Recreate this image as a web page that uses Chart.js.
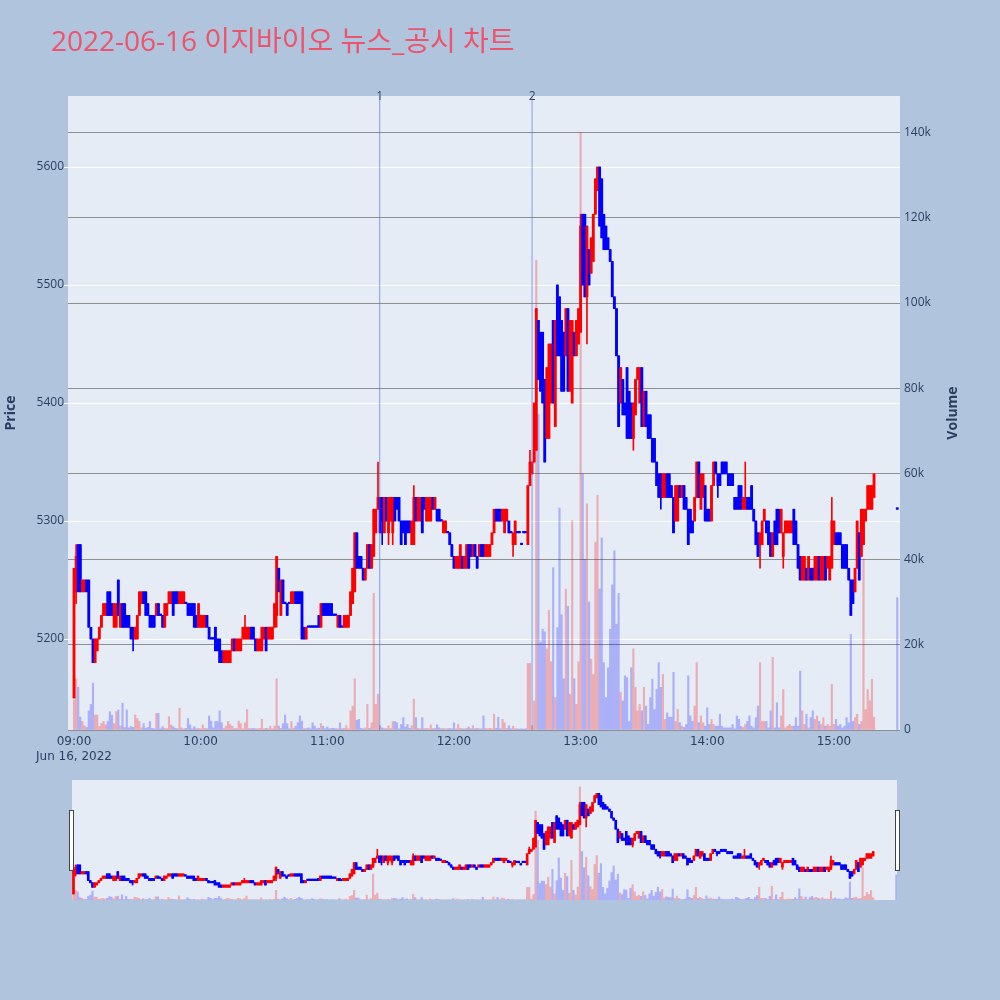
<!DOCTYPE html>
<html>
<head>
<meta charset="utf-8">
<script src="https://cdn.jsdelivr.net/npm/chart.js@4.4.0/dist/chart.umd.min.js"></script>
<style>
  body { margin: 0; background: #b0c4de; }
  #page { position: relative; width: 1000px; height: 1000px; overflow: hidden; background: #b0c4de; }
  #title { position: absolute; left: 51px; top: 26px; font-size: 28px; line-height: 28px; color: rgb(236, 84, 107);
           font-family: "Open Sans", "Noto Sans CJK KR", sans-serif; white-space: nowrap; }
  #main { position: absolute; left: 0; top: 0; }
  #slider { position: absolute; left: 66px; top: 780px; }
</style>
</head>
<body>
<div id="page">
  <canvas id="main" width="1000" height="770"></canvas>
  <canvas id="slider" width="836" height="120"></canvas>
  <div id="title">2022-06-16 이지바이오 뉴스_공시 차트</div>
</div>
<script>
// 1-minute candles, 09:00 .. 15:19, then the 15:30 closing auction
const opens = [
  5150,5240,5280,5280,5240,5240,5250,5250,5210,5200,
  5180,5190,5200,5210,5220,5220,5240,5240,5230,5210,
  5210,5250,5210,5230,5230,5220,5220,5210,5210,5200,
  5200,5220,5230,5240,5240,5230,5220,5220,5220,5220,
  5230,5220,5220,5210,5220,5230,5230,5240,5240,5240,
  5230,5230,5230,5230,5230,5230,5230,5230,5220,5210,
  5210,5210,5210,5220,5210,5200,5200,5210,5200,5200,
  5190,5180,5180,5180,5180,5190,5200,5190,5190,5190,
  5200,5200,5200,5200,5210,5210,5200,5190,5190,5190,
  5200,5210,5200,5200,5200,5210,5220,5260,5220,5250,
  5230,5230,5230,5230,5230,5240,5240,5240,5240,5210,
  5200,5210,5210,5210,5210,5210,5220,5210,5230,5230,
  5230,5230,5230,5220,5220,5210,5220,5210,5210,5210,
  5210,5220,5230,5240,5290,5270,5270,5260,5250,5260,
  5280,5260,5270,5290,5310,5320,5320,5290,5320,5290,
  5300,5290,5320,5320,5320,5300,5300,5300,5300,5300,
  5280,5280,5320,5300,5300,5320,5320,5300,5300,5300,
  5320,5310,5310,5310,5300,5290,5290,5290,5290,5280,
  5270,5260,5260,5260,5270,5260,5260,5280,5280,5270,
  5280,5270,5270,5280,5280,5270,5270,5270,5280,5290,
  5310,5310,5310,5300,5290,5300,5300,5290,5280,5280,
  5290,5290,5280,5290,5290,5280,5330,5340,5350,5360,
  5470,5460,5460,5420,5370,5370,5400,5470,5380,5500,
  5490,5470,5460,5440,5480,5410,5400,5460,5440,5450,
  5460,5560,5560,5490,5530,5510,5520,5560,5580,5600,
  5590,5560,5550,5540,5530,5520,5490,5480,5440,5400,
  5420,5400,5430,5410,5400,5370,5390,5420,5400,5430,
  5380,5410,5390,5390,5370,5370,5350,5340,5340,5320,
  5320,5340,5340,5330,5320,5300,5300,5330,5320,5330,
  5320,5310,5310,5300,5300,5320,5350,5310,5320,5330,
  5310,5310,5300,5330,5350,5340,5340,5350,5350,5350,
  5340,5340,5340,5320,5320,5330,5330,5310,5310,5320,
  5320,5330,5310,5300,5290,5280,5280,5300,5300,5300,
  5290,5270,5300,5310,5310,5290,5270,5290,5290,5290,
  5290,5310,5300,5280,5270,5250,5250,5260,5250,5260,
  5260,5250,5250,5270,5250,5250,5270,5260,5250,5260,
  5280,5290,5290,5290,5280,5280,5280,5260,5250,5250,
  5240,5260,5290,5270,5280,5300,5310,5310,5310,5320,
  5310
];
const highs = [
  5260,5280,5280,5280,5250,5250,5250,5250,5210,5200,
  5200,5200,5210,5220,5230,5230,5240,5240,5230,5230,
  5230,5250,5230,5230,5230,5220,5220,5210,5210,5210,
  5220,5240,5240,5240,5240,5230,5220,5220,5220,5230,
  5230,5220,5220,5230,5230,5240,5240,5240,5240,5240,
  5240,5240,5240,5230,5230,5230,5230,5230,5220,5230,
  5220,5220,5220,5220,5210,5200,5200,5210,5200,5200,
  5190,5190,5190,5190,5190,5200,5200,5200,5200,5200,
  5210,5220,5210,5210,5210,5210,5200,5200,5200,5210,
  5210,5210,5210,5210,5210,5230,5270,5260,5250,5250,
  5230,5230,5230,5240,5240,5240,5240,5240,5240,5210,
  5210,5210,5210,5210,5210,5210,5220,5230,5230,5230,
  5230,5230,5230,5220,5220,5220,5220,5210,5220,5220,
  5220,5240,5260,5290,5290,5270,5270,5260,5260,5280,
  5280,5280,5310,5310,5350,5320,5320,5320,5320,5320,
  5320,5320,5320,5320,5320,5300,5300,5300,5300,5300,
  5300,5330,5320,5320,5320,5320,5320,5320,5320,5320,
  5320,5320,5310,5310,5300,5300,5300,5290,5290,5280,
  5270,5270,5270,5280,5270,5270,5280,5280,5280,5280,
  5280,5270,5280,5280,5280,5280,5280,5280,5290,5310,
  5310,5310,5310,5310,5310,5310,5300,5290,5290,5300,
  5290,5290,5280,5290,5290,5330,5360,5350,5400,5480,
  5470,5460,5460,5420,5430,5450,5450,5470,5470,5500,
  5490,5470,5460,5480,5480,5470,5470,5460,5470,5480,
  5560,5560,5560,5550,5530,5540,5560,5590,5600,5600,
  5590,5560,5550,5540,5530,5520,5490,5480,5440,5430,
  5420,5400,5430,5410,5400,5400,5420,5430,5430,5430,
  5410,5410,5390,5390,5370,5370,5350,5340,5340,5340,
  5340,5340,5340,5330,5320,5330,5330,5330,5330,5330,
  5320,5310,5310,5300,5320,5350,5350,5340,5340,5330,
  5310,5310,5330,5350,5350,5340,5340,5350,5350,5350,
  5340,5340,5340,5320,5320,5330,5330,5320,5350,5320,
  5320,5330,5310,5300,5290,5290,5300,5310,5300,5300,
  5290,5290,5300,5310,5310,5310,5290,5300,5300,5300,
  5300,5310,5300,5280,5270,5270,5270,5260,5270,5260,
  5260,5270,5270,5270,5270,5270,5270,5270,5270,5320,
  5300,5290,5290,5290,5280,5280,5280,5260,5250,5250,
  5260,5300,5290,5310,5310,5310,5330,5330,5330,5340,
  5310
];
const lows = [
  5150,5230,5240,5240,5240,5240,5240,5210,5200,5180,
  5180,5190,5200,5210,5220,5220,5220,5220,5220,5210,
  5210,5220,5210,5210,5210,5210,5210,5200,5190,5200,
  5200,5220,5230,5230,5220,5220,5210,5210,5210,5220,
  5220,5220,5210,5210,5220,5230,5230,5220,5230,5230,
  5230,5230,5230,5230,5220,5220,5220,5210,5210,5210,
  5210,5210,5210,5210,5200,5200,5200,5190,5190,5180,
  5180,5180,5180,5180,5180,5190,5190,5190,5190,5190,
  5200,5200,5200,5200,5200,5200,5190,5190,5190,5190,
  5200,5190,5200,5200,5200,5210,5210,5240,5220,5230,
  5230,5220,5230,5230,5230,5230,5230,5230,5200,5200,
  5200,5210,5210,5210,5210,5210,5210,5210,5220,5220,
  5220,5220,5220,5220,5220,5210,5210,5210,5210,5210,
  5210,5220,5230,5240,5260,5260,5260,5250,5250,5260,
  5260,5260,5270,5290,5310,5290,5280,5290,5300,5280,
  5300,5280,5300,5310,5300,5280,5290,5280,5290,5290,
  5280,5280,5300,5300,5300,5290,5310,5300,5300,5300,
  5310,5310,5300,5300,5300,5290,5290,5290,5280,5270,
  5260,5260,5260,5260,5260,5260,5260,5260,5270,5270,
  5270,5260,5270,5270,5270,5270,5270,5270,5280,5290,
  5300,5300,5300,5300,5290,5300,5290,5290,5270,5280,
  5290,5290,5280,5290,5290,5280,5330,5340,5350,5360,
  5420,5410,5400,5350,5370,5370,5400,5400,5380,5440,
  5440,5410,5410,5440,5410,5410,5400,5440,5440,5450,
  5460,5500,5490,5450,5500,5510,5520,5560,5580,5550,
  5540,5530,5530,5530,5520,5490,5480,5440,5380,5400,
  5390,5390,5370,5370,5370,5360,5390,5420,5400,5380,
  5380,5380,5370,5370,5350,5350,5330,5320,5310,5320,
  5320,5320,5320,5320,5290,5300,5300,5320,5320,5310,
  5310,5280,5290,5290,5300,5320,5320,5310,5320,5300,
  5300,5300,5300,5330,5340,5320,5330,5340,5340,5340,
  5330,5330,5330,5310,5310,5310,5310,5310,5310,5310,
  5310,5310,5300,5280,5270,5260,5280,5300,5290,5280,
  5270,5270,5280,5280,5290,5290,5260,5290,5290,5290,
  5290,5280,5280,5260,5250,5250,5250,5250,5250,5250,
  5250,5250,5250,5250,5250,5250,5250,5260,5250,5260,
  5280,5280,5280,5280,5260,5260,5260,5250,5220,5230,
  5240,5260,5250,5270,5280,5300,5310,5310,5310,5320,
  5310
];
const closes = [
  5260,5270,5240,5240,5250,5250,5240,5210,5200,5180,
  5200,5200,5210,5220,5230,5230,5220,5220,5220,5230,
  5230,5220,5230,5210,5210,5210,5210,5200,5200,5210,
  5220,5240,5240,5230,5220,5220,5210,5210,5210,5230,
  5220,5220,5210,5230,5230,5240,5240,5220,5230,5230,
  5240,5240,5240,5230,5220,5220,5220,5210,5210,5230,
  5220,5220,5220,5210,5200,5200,5200,5190,5190,5180,
  5180,5190,5190,5190,5190,5200,5190,5200,5200,5200,
  5210,5210,5210,5210,5200,5200,5190,5200,5200,5210,
  5210,5190,5210,5210,5210,5230,5270,5240,5250,5230,
  5230,5220,5230,5240,5240,5230,5230,5230,5200,5200,
  5210,5210,5210,5210,5210,5210,5210,5230,5220,5220,
  5220,5220,5220,5220,5220,5220,5210,5210,5220,5220,
  5220,5240,5260,5290,5260,5260,5260,5250,5260,5280,
  5260,5280,5310,5310,5320,5290,5300,5320,5300,5320,
  5320,5320,5300,5310,5300,5280,5290,5280,5290,5290,
  5300,5320,5300,5320,5320,5290,5310,5320,5320,5320,
  5310,5320,5300,5300,5300,5300,5300,5290,5280,5270,
  5260,5270,5270,5280,5260,5270,5280,5260,5270,5280,
  5270,5260,5280,5270,5270,5280,5280,5280,5290,5310,
  5300,5300,5300,5310,5310,5310,5290,5290,5290,5300,
  5290,5290,5280,5290,5290,5330,5350,5350,5400,5480,
  5420,5410,5400,5350,5430,5450,5450,5400,5470,5440,
  5440,5410,5410,5480,5410,5470,5470,5440,5470,5480,
  5550,5500,5490,5550,5500,5540,5560,5590,5600,5550,
  5540,5530,5530,5530,5520,5490,5480,5440,5380,5430,
  5390,5390,5370,5370,5370,5400,5420,5430,5430,5380,
  5410,5380,5370,5370,5350,5350,5330,5320,5320,5340,
  5340,5320,5320,5320,5290,5330,5330,5320,5330,5310,
  5310,5280,5290,5290,5320,5350,5320,5340,5340,5300,
  5300,5300,5330,5350,5340,5330,5330,5340,5340,5340,
  5330,5330,5330,5310,5310,5310,5310,5320,5320,5310,
  5310,5310,5300,5280,5270,5290,5300,5310,5290,5280,
  5270,5290,5280,5280,5290,5310,5290,5300,5300,5300,
  5300,5280,5280,5260,5250,5270,5270,5250,5270,5250,
  5250,5270,5270,5250,5270,5270,5250,5270,5270,5300,
  5300,5280,5280,5280,5260,5260,5260,5250,5220,5230,
  5260,5300,5250,5310,5310,5310,5330,5330,5330,5340,
  5310
];
const volumes = [
  7000,12000,10000,3000,2000,1000,600,4500,6000,11000,
  3500,3500,800,1500,2000,1200,2000,4300,3500,1500,
  4300,4700,1000,6300,600,4700,500,800,600,3500,
  2700,2000,500,1500,400,600,2000,400,300,3900,
  3900,300,800,400,300,3100,1200,800,400,300,
  5100,500,300,400,2700,1200,300,800,300,400,
  300,1200,400,300,3300,2100,500,2000,2000,4500,
  1700,400,900,2000,1300,900,300,400,2100,1500,
  300,1700,4800,400,300,400,300,300,400,2500,
  300,400,300,900,300,900,12000,900,400,1500,
  3500,1500,300,2000,400,900,1700,3300,2100,300,
  400,500,300,1700,900,300,400,1500,900,300,
  700,300,400,400,300,300,1700,300,400,1000,
  300,4500,5600,12000,2300,2500,400,300,500,6000,
  400,1700,32000,6000,8400,1000,500,400,300,1000,
  400,2000,2000,1700,300,1300,2900,700,1300,400,
  1000,7200,2900,400,300,2900,300,400,300,1200,
  300,400,1200,500,300,400,300,300,400,300,
  1700,300,1300,400,300,300,400,700,300,1000,
  300,400,300,300,3300,400,300,400,300,3700,
  400,3000,300,2500,1700,400,1000,300,900,300,
  300,200,300,200,300,15600,15600,1000,6800,110000,
  74000,20500,23600,23000,19000,28000,16000,38000,7600,24000,
  52000,27000,12000,33000,29000,8400,49000,12000,6000,16000,
  140000,60000,40000,53000,30000,16600,13000,44000,55000,33000,
  45000,15800,7600,14600,23600,34000,42000,24800,32000,8800,
  6800,12700,12300,2000,14600,19000,10000,4500,6000,4500,
  10000,5600,1300,7600,11900,4800,9500,15800,10000,13000,
  2500,4000,3000,3000,13500,2000,4800,1700,900,600,
  1300,12700,3300,2000,5600,15800,1700,3300,1700,900,
  5200,1300,2500,1300,900,900,3700,900,500,500,
  500,500,1300,300,3300,2500,900,600,1300,2000,
  3300,900,500,2900,5600,15800,2000,2000,2000,500,
  4500,17000,500,6400,500,3300,9500,500,900,1300,
  900,900,2900,900,13800,4500,1300,3700,500,2900,
  4500,2500,3300,2000,1300,2900,900,1300,900,10700,
  1300,2500,900,1300,500,900,2900,1700,22400,2000,
  2900,3700,1300,2000,40000,4800,9500,6800,11900,3000,
  31000
];

// minutes after 09:00: continuous session 0..379, closing auction at 390
const regularSessionLength = 380;
const closingAuctionMinute = 390;
const minutes = [];
for (let i = 0; i < regularSessionLength; i++) minutes.push(i);
minutes.push(closingAuctionMinute);

const timeTicks = [0, 60, 120, 180, 240, 300, 360];
const timeTickLabels = ["09:00", "10:00", "11:00", "12:00", "13:00", "14:00", "15:00"];
const dateLabel = "Jun 16, 2022";
const priceTicks = [5200, 5300, 5400, 5500, 5600];
const volumeTicks = [0, 20000, 40000, 60000, 80000, 100000, 120000, 140000];
const volumeTickLabels = ["0", "20k", "40k", "60k", "80k", "100k", "120k", "140k"];

// news / disclosure markers (minutes after 09:00)
const eventMinutes = [144.8, 217];
const eventLabels = ["1", "2"];

const FONT = '"Open Sans", "Noto Sans CJK KR", sans-serif';
const TEXT = "#2a3f5f";

function buildDatasets(bodyW, wickW, volW) {
    const up = closes.map((c, i) => c > opens[i]);
    const candleColor = up.map(u => u ? "#ff0000" : "#0000ff");
    const volColor = up.map(u => u ? "rgba(255, 0, 0, 0.27)" : "rgba(0, 0, 255, 0.25)");
    return [
        {
            label: "body",
            data: minutes.map((m, i) => ({ x: m, y: [opens[i], closes[i]] })),
            backgroundColor: candleColor,
            barThickness: bodyW,
            minBarLength: 1.5,
            grouped: false,
            yAxisID: "y",
            order: 1
        },
        {
            label: "wick",
            data: minutes.map((m, i) => ({ x: m, y: [lows[i], highs[i]] })),
            backgroundColor: candleColor,
            barThickness: wickW,
            minBarLength: 1,
            grouped: false,
            yAxisID: "y",
            order: 2
        },
        {
            label: "volume",
            data: minutes.map((m, i) => ({ x: m, y: volumes[i] })),
            backgroundColor: volColor,
            barThickness: volW,
            grouped: false,
            yAxisID: "yv",
            order: 3
        }
    ];
}

const plotBackground = {
    id: "plotBackground",
    beforeDraw(chart) {
        const { ctx, chartArea: a } = chart;
        ctx.save();
        ctx.fillStyle = "#e5ecf6";
        ctx.fillRect(a.left, a.top, a.right - a.left, a.bottom - a.top);
        ctx.restore();
    }
};

const eventLines = {
    id: "eventLines",
    afterDatasetsDraw(chart) {
        const { ctx, chartArea: a, scales } = chart;
        ctx.save();
        eventMinutes.forEach((m, i) => {
            const px = scales.x.getPixelForValue(m);
            ctx.strokeStyle = "rgba(70, 110, 230, 0.5)";
            ctx.lineWidth = 1.2;
            ctx.beginPath();
            ctx.moveTo(px, a.top);
            ctx.lineTo(px, a.bottom);
            ctx.stroke();
            ctx.fillStyle = "#3d4660";
            ctx.font = "12px " + FONT;
            ctx.textAlign = "center";
            ctx.textBaseline = "middle";
            ctx.fillText(eventLabels[i], px, a.top + 1);
        });
        // right axis title, rotated like the left one
        ctx.translate(953, (a.top + a.bottom) / 2);
        ctx.rotate(-Math.PI / 2);
        ctx.font = "bold 14px " + FONT;
        ctx.fillStyle = TEXT;
        ctx.textAlign = "center";
        ctx.textBaseline = "middle";
        ctx.fillText("Volume", 0, 0);
        ctx.restore();
    }
};

new Chart(document.getElementById("main").getContext("2d"), {
    type: "bar",
    data: { datasets: buildDatasets(2.2, 1, 1.5) },
    options: {
        responsive: false,
        animation: false,
        events: [],
        layout: { padding: { top: 96, left: 0, right: 0, bottom: 0 } },
        plugins: { legend: { display: false }, tooltip: { enabled: false } },
        scales: {
            x: {
                type: "linear",
                min: -2.84,
                max: 391.3,
                offset: false,
                grid: { display: false, drawTicks: false, tickLength: 0 },
                border: { display: false },
                afterBuildTicks: s => { s.ticks = timeTicks.map(v => ({ value: v })); },
                ticks: {
                    autoSkip: false,
                    maxRotation: 0,
                    padding: 5,
                    color: TEXT,
                    font: { size: 12, family: '"DejaVu Sans", Verdana, sans-serif' },
                    callback: (v) => {
                        const i = timeTicks.indexOf(v);
                        return i === 0 ? [timeTickLabels[i], dateLabel] : timeTickLabels[i];
                    }
                },
                afterFit: s => { s.height = 40; }
            },
            y: {
                position: "left",
                min: 5122.9,
                max: 5660.2,
                grid: { color: "#ffffff", lineWidth: 1, drawTicks: true, tickLength: 4, tickColor: "#ffffff" },
                border: { display: false },
                afterBuildTicks: s => { s.ticks = priceTicks.map(v => ({ value: v })); },
                ticks: { padding: 0, color: TEXT, font: { size: 12, family: FONT }, callback: v => String(v) },
                title: { display: true, text: "Price", color: TEXT, font: { size: 14, weight: "bold", family: FONT }, padding: { top: 3, bottom: 3 } },
                afterFit: s => { s.width = 68; }
            },
            yv: {
                position: "right",
                min: 0,
                max: 148500,
                grid: { color: "#8f8f8f", lineWidth: 1, drawTicks: false },
                border: { display: false },
                afterBuildTicks: s => { s.ticks = volumeTicks.map(v => ({ value: v })); },
                ticks: {
                    padding: 4,
                    color: TEXT,
                    font: { size: 12, family: FONT },
                    callback: v => volumeTickLabels[volumeTicks.indexOf(v)]
                },
                afterFit: s => { s.width = 100; }
            }
        }
    },
    plugins: [plotBackground, eventLines]
});

const sliderHandles = {
    id: "sliderHandles",
    afterDraw(chart) {
        const { ctx } = chart;
        ctx.save();
        ctx.fillStyle = "#ffffff";
        ctx.strokeStyle = "#444444";
        ctx.lineWidth = 1;
        [3.5, 829.5].forEach(x => {
            ctx.fillRect(x, 30.5, 4, 60);
            ctx.strokeRect(x, 30.5, 4, 60);
        });
        ctx.restore();
    }
};

new Chart(document.getElementById("slider").getContext("2d"), {
    type: "bar",
    data: { datasets: buildDatasets(2, 1, 1.5) },
    options: {
        responsive: false,
        animation: false,
        events: [],
        layout: { padding: { top: 0, left: 6, right: 5, bottom: 0 } },
        plugins: { legend: { display: false }, tooltip: { enabled: false } },
        scales: {
            x: { type: "linear", display: false, min: -0.7, max: 390.3, offset: false },
            y: { display: false, min: 5122.9, max: 5660.2 },
            yv: { display: false, min: 0, max: 148500 }
        }
    },
    plugins: [plotBackground, sliderHandles]
});
</script>
</body>
</html>
